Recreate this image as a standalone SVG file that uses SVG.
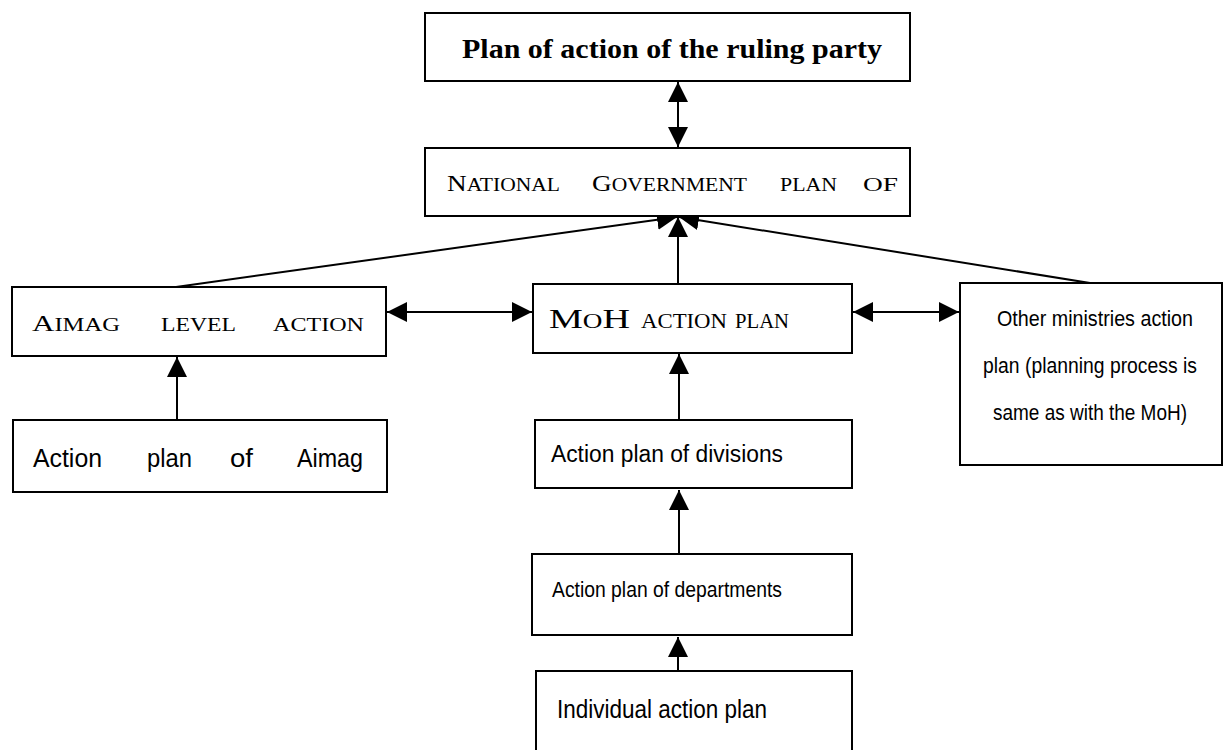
<svg xmlns="http://www.w3.org/2000/svg" width="1224" height="750" viewBox="0 0 1224 750">
<defs>
<marker id="ah" markerUnits="userSpaceOnUse" markerWidth="20" markerHeight="20" viewBox="0 0 20 20" refX="20" refY="10" orient="auto-start-reverse">
<path d="M0,0 L20,10 L0,20 z" fill="#000"/>
</marker>
<style>
.box{fill:#fff;stroke:#000;stroke-width:2}
.ser{font-family:"Liberation Serif","Times New Roman",serif;fill:#000}
.sans{font-family:"Liberation Sans",Arial,sans-serif;fill:#000}
.con{stroke:#000;stroke-width:2;fill:none}
</style>
</defs>
<rect width="1224" height="750" fill="#fff"/>

<g id="connectors">
<line class="con" x1="678" y1="82" x2="678" y2="147" marker-start="url(#ah)" marker-end="url(#ah)"/>
<line class="con" x1="176" y1="287" x2="677" y2="217" marker-end="url(#ah)"/>
<line class="con" x1="1090" y1="283" x2="679" y2="217" marker-end="url(#ah)"/>
<line class="con" x1="678" y1="284" x2="678" y2="217" marker-end="url(#ah)"/>
<line class="con" x1="387" y1="312" x2="532" y2="312" marker-start="url(#ah)" marker-end="url(#ah)"/>
<line class="con" x1="853" y1="312" x2="959" y2="312" marker-start="url(#ah)" marker-end="url(#ah)"/>
<line class="con" x1="177" y1="420" x2="177" y2="357" marker-end="url(#ah)"/>
<line class="con" x1="679" y1="420" x2="679" y2="354" marker-end="url(#ah)"/>
<line class="con" x1="679" y1="554" x2="679" y2="490" marker-end="url(#ah)"/>
<line class="con" x1="678" y1="671" x2="678" y2="637" marker-end="url(#ah)"/>
</g>

<g id="ruling-party">
<rect class="box" x="425" y="13" width="485" height="68"/>
<text class="ser" x="462" y="58" font-size="28" font-weight="bold" textLength="420" lengthAdjust="spacingAndGlyphs">Plan of action of the ruling party</text>
</g>

<g id="national-government">
<rect class="box" x="425" y="148" width="485" height="68"/>
<text class="ser" x="447" y="191" textLength="113" lengthAdjust="spacingAndGlyphs"><tspan font-size="24">N</tspan><tspan font-size="19">ATIONAL</tspan></text>
<text class="ser" x="592" y="191" textLength="155" lengthAdjust="spacingAndGlyphs"><tspan font-size="24">G</tspan><tspan font-size="19">OVERNMENT</tspan></text>
<text class="ser" x="780" y="191" font-size="19" textLength="57" lengthAdjust="spacingAndGlyphs">PLAN</text>
<text class="ser" x="863" y="191" font-size="19" textLength="35" lengthAdjust="spacingAndGlyphs">OF</text>
</g>

<g id="aimag-level">
<rect class="box" x="12" y="287" width="374" height="69"/>
<text class="ser" x="32" y="331" textLength="88" lengthAdjust="spacingAndGlyphs"><tspan font-size="24">A</tspan><tspan font-size="19">IMAG</tspan></text>
<text class="ser" x="161" y="331" font-size="19" textLength="75" lengthAdjust="spacingAndGlyphs">LEVEL</text>
<text class="ser" x="273" y="331" font-size="19" textLength="91" lengthAdjust="spacingAndGlyphs">ACTION</text>
</g>

<g id="moh">
<rect class="box" x="533" y="284" width="319" height="69"/>
<text class="ser" x="549" y="328" textLength="81" lengthAdjust="spacingAndGlyphs"><tspan font-size="28">M</tspan><tspan font-size="20">O</tspan><tspan font-size="28">H</tspan></text>
<text class="ser" x="641" y="328" font-size="20" textLength="86" lengthAdjust="spacingAndGlyphs">ACTION</text>
<text class="ser" x="735" y="328" font-size="20" textLength="54" lengthAdjust="spacingAndGlyphs">PLAN</text>
</g>

<g id="other-ministries">
<rect class="box" x="960" y="283" width="262" height="182"/>
<text class="sans" x="1095" y="326" font-size="22" text-anchor="middle" textLength="196" lengthAdjust="spacingAndGlyphs">Other ministries action</text>
<text class="sans" x="1090" y="373" font-size="22" text-anchor="middle" textLength="214" lengthAdjust="spacingAndGlyphs">plan (planning process is</text>
<text class="sans" x="1090" y="420" font-size="22" text-anchor="middle" textLength="194" lengthAdjust="spacingAndGlyphs">same as with the MoH)</text>
</g>

<g id="aimag-plan">
<rect class="box" x="13" y="420" width="374" height="72"/>
<text class="sans" x="33" y="467" font-size="25" textLength="69" lengthAdjust="spacingAndGlyphs">Action</text>
<text class="sans" x="147" y="467" font-size="25" textLength="45" lengthAdjust="spacingAndGlyphs">plan</text>
<text class="sans" x="230" y="467" font-size="25" textLength="23" lengthAdjust="spacingAndGlyphs">of</text>
<text class="sans" x="297" y="467" font-size="25" textLength="66" lengthAdjust="spacingAndGlyphs">Aimag</text>
</g>

<g id="divisions">
<rect class="box" x="535" y="420" width="317" height="68"/>
<text class="sans" x="551" y="462" font-size="23" textLength="232" lengthAdjust="spacingAndGlyphs">Action plan of divisions</text>
</g>

<g id="departments">
<rect class="box" x="532" y="554" width="320" height="81"/>
<text class="sans" x="552" y="597" font-size="22" textLength="230" lengthAdjust="spacingAndGlyphs">Action plan of departments</text>
</g>

<g id="individual">
<rect class="box" x="536" y="671" width="316" height="90"/>
<text class="sans" x="557" y="718" font-size="26" textLength="210" lengthAdjust="spacingAndGlyphs">Individual action plan</text>
</g>
</svg>
